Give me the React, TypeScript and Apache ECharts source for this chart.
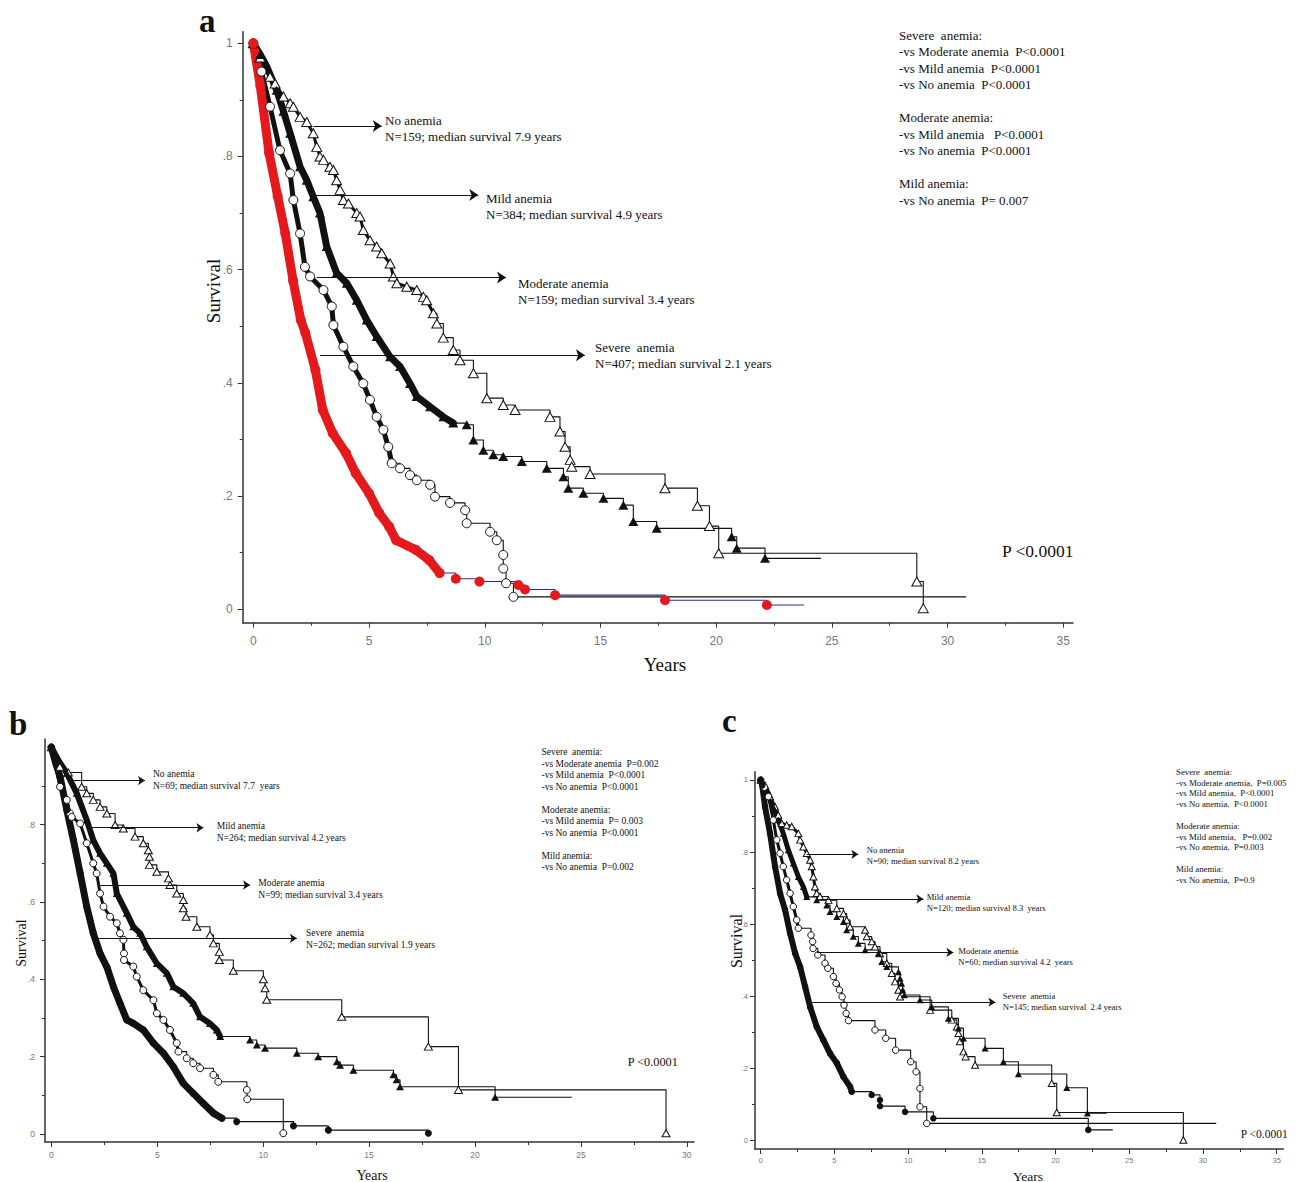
import React, { useEffect, useRef } from "react";
import * as echarts from "echarts";

type Pt = [number, number];

// ---------------- Panel a ----------------
const aNoAnemia: Pt[] = [[0,1],[0.3,0.975],[0.72,0.941],[0.94,0.929],[1.3,0.906],[1.59,0.894],[1.73,0.888],[2.02,0.87],[2.31,0.861],[2.59,0.841],[2.74,0.817],[2.88,0.8],[3.03,0.794],[3.31,0.782],[3.46,0.776],[3.6,0.758],[3.75,0.741],[3.89,0.723],[4.11,0.717],[4.47,0.7],[4.61,0.694],[4.75,0.67],[5.04,0.652],[5.33,0.641],[5.55,0.629],[5.91,0.611],[6.05,0.588],[6.2,0.576],[6.63,0.57],[7.06,0.564],[7.35,0.552],[7.49,0.546],[7.78,0.523],[7.93,0.505],[8.21,0.48],[8.64,0.458],[8.93,0.44],[9.51,0.417],[10.09,0.373],[10.8,0.361],[11.31,0.352],[12.82,0.34],[13.25,0.314],[13.47,0.287],[13.69,0.264],[13.76,0.252],[14.55,0.239],[17.79,0.214],[19.19,0.183],[19.71,0.147],[20.11,0.099],[28.67,0.049],[28.95,0.002]];
const aMild: Pt[] = [[0,1],[0.3,0.98],[0.58,0.959],[1.01,0.917],[1.3,0.88],[1.59,0.841],[2.02,0.782],[2.31,0.758],[2.59,0.729],[2.88,0.7],[3.17,0.641],[3.6,0.594],[4.04,0.576],[4.47,0.546],[4.9,0.511],[5.33,0.482],[5.91,0.446],[6.34,0.429],[6.77,0.399],[7.06,0.376],[7.64,0.358],[8.21,0.34],[8.64,0.329],[9.22,0.326],[9.51,0.299],[9.94,0.281],[10.37,0.273],[10.8,0.27],[11.6,0.261],[12.68,0.249],[13.4,0.234],[13.61,0.214],[14.26,0.205],[15.13,0.196],[15.99,0.184],[16.42,0.155],[17.43,0.143],[20.67,0.128],[20.89,0.108],[22.11,0.09]];
const aMildEnd = 24.53;
const aModerate: Pt[] = [[0,1],[0.35,0.95],[0.72,0.888],[1.15,0.811],[1.59,0.77],[1.73,0.723],[2.02,0.664],[2.23,0.605],[2.45,0.588],[3.03,0.564],[3.39,0.535],[3.46,0.502],[3.89,0.464],[4.32,0.429],[4.75,0.399],[5.04,0.37],[5.33,0.34],[5.62,0.317],[5.83,0.287],[5.98,0.258],[6.34,0.249],[6.77,0.237],[7.06,0.228],[7.64,0.22],[7.85,0.199],[8.5,0.188],[9.15,0.175],[9.22,0.152],[10.23,0.137],[10.52,0.122],[10.8,0.096],[10.8,0.072],[10.92,0.046],[11.24,0.022]];
const aModerateEnd = 30.8;
const aSevere: Pt[] = [[0,1],[0.3,0.925],[0.68,0.806],[1.05,0.73],[1.38,0.664],[1.72,0.58],[2.05,0.511],[2.25,0.488],[2.68,0.423],[3.0,0.352],[3.43,0.311],[4.0,0.276],[4.43,0.24],[5.0,0.205],[5.44,0.17],[5.87,0.146],[6.17,0.122],[7.02,0.105],[7.6,0.087],[8.05,0.064],[8.75,0.054],[9.77,0.049],[11.45,0.043],[11.74,0.035],[13.04,0.025],[17.79,0.016],[22.19,0.0076]];
const aSevereEnd = 23.8;

// ---------------- Panel b ----------------
const bNoAnemia: Pt[] = [[0,1],[0.4,0.95],[0.8,0.935],[1.43,0.898],[1.67,0.881],[1.98,0.864],[2.3,0.846],[2.62,0.829],[3.01,0.799],[3.4,0.79],[3.95,0.769],[4.34,0.752],[4.58,0.734],[4.63,0.717],[4.63,0.696],[4.98,0.678],[5.53,0.661],[5.6,0.644],[5.92,0.622],[6.23,0.605],[6.23,0.584],[6.36,0.562],[6.87,0.536],[7.49,0.515],[7.65,0.493],[7.93,0.471],[7.93,0.45],[8.59,0.422],[10.01,0.4],[10.09,0.377],[10.17,0.347],[13.71,0.303],[17.8,0.226],[19.22,0.114],[29.02,0.002]];
const bMild: Pt[] = [[0,1],[0.35,0.965],[0.73,0.933],[1.2,0.881],[1.67,0.812],[1.98,0.76],[2.3,0.726],[2.62,0.7],[2.93,0.674],[3.09,0.622],[3.56,0.571],[3.87,0.536],[4.19,0.519],[4.5,0.484],[4.98,0.441],[5.45,0.416],[5.76,0.381],[6.23,0.364],[6.7,0.338],[7.02,0.303],[7.49,0.286],[7.81,0.269],[7.97,0.252],[9.38,0.243],[9.7,0.23],[10.09,0.222],[11.59,0.209],[12.6,0.2],[13.48,0.187],[13.63,0.178],[14.26,0.165],[16.15,0.153],[16.3,0.14],[16.46,0.122],[20.95,0.095]];
const bMildEnd = 24.57;
const bModerate: Pt[] = [[0,1],[0.41,0.898],[0.73,0.864],[0.88,0.829],[0.96,0.82],[1.36,0.803],[1.67,0.752],[1.98,0.7],[2.14,0.674],[2.3,0.622],[2.46,0.588],[2.77,0.562],[3.09,0.545],[3.24,0.519],[3.4,0.502],[3.43,0.467],[3.43,0.45],[3.87,0.433],[4.03,0.407],[4.34,0.372],[4.82,0.346],[4.98,0.312],[5.29,0.295],[5.6,0.269],[5.92,0.235],[6.0,0.213],[6.39,0.196],[6.7,0.183],[7.02,0.17],[7.65,0.153],[7.88,0.135],[9.23,0.114],[9.25,0.09],[10.95,0.002]];
const bSevere: Pt[] = [[0,1],[0.2,0.96],[0.41,0.924],[0.73,0.838],[1.04,0.76],[1.36,0.674],[1.67,0.588],[1.98,0.519],[2.3,0.467],[2.62,0.432],[2.93,0.381],[3.24,0.338],[3.56,0.295],[3.87,0.286],[4.34,0.269],[4.82,0.235],[5.29,0.209],[5.76,0.174],[6.23,0.131],[6.7,0.105],[7.18,0.079],[7.65,0.054],[8.05,0.041],[8.75,0.032],[11.43,0.021],[13.08,0.01],[17.8,0.002]];

// ---------------- Panel c ----------------
const cNoAnemia: Pt[] = [[0,1],[0.3,0.985],[0.63,0.954],[0.97,0.926],[1.19,0.903],[1.42,0.88],[1.76,0.875],[2.1,0.871],[2.55,0.852],[2.67,0.834],[2.89,0.815],[3.12,0.797],[3.35,0.778],[3.46,0.76],[3.57,0.732],[3.68,0.704],[3.8,0.686],[4.02,0.677],[4.59,0.667],[5.16,0.644],[5.61,0.63],[5.83,0.612],[6.06,0.593],[7.08,0.584],[7.19,0.566],[7.53,0.552],[7.75,0.538],[8.09,0.519],[8.55,0.492],[8.89,0.464],[9.11,0.441],[9.34,0.418],[9.45,0.399],[11.49,0.362],[12.96,0.335],[13.3,0.316],[13.41,0.298],[13.51,0.275],[13.75,0.247],[13.9,0.233],[14.54,0.21],[19.74,0.159],[20.08,0.078],[28.67,0.002]];
const cMild: Pt[] = [[0,1],[0.2,0.985],[0.52,0.963],[0.85,0.926],[1.19,0.889],[1.53,0.852],[1.87,0.806],[2.21,0.769],[2.55,0.732],[2.89,0.704],[3.12,0.676],[3.8,0.667],[4.48,0.653],[4.7,0.635],[5.16,0.621],[5.61,0.607],[5.83,0.584],[6.28,0.566],[6.62,0.547],[7.08,0.529],[7.98,0.519],[8.21,0.496],[8.55,0.482],[9.34,0.468],[9.45,0.45],[9.55,0.436],[9.63,0.418],[9.74,0.404],[10.8,0.39],[11.6,0.371],[12.73,0.339],[13.41,0.312],[13.75,0.284],[15.22,0.256],[16.46,0.219],[17.48,0.185],[20.76,0.147],[22.16,0.076]];
const cMildEnd = 23.47;
const cModerate: Pt[] = [[0,1],[0.25,0.98],[0.52,0.954],[0.85,0.889],[1.09,0.834],[1.31,0.797],[1.53,0.76],[1.76,0.723],[1.99,0.686],[2.21,0.649],[2.44,0.612],[2.55,0.589],[3.41,0.57],[3.52,0.552],[3.55,0.533],[3.87,0.515],[4.36,0.492],[4.55,0.478],[4.93,0.455],[5.11,0.436],[5.34,0.418],[5.52,0.399],[5.65,0.376],[5.79,0.353],[5.95,0.333],[7.75,0.307],[8.48,0.284],[9.15,0.251],[10.17,0.219],[10.54,0.191],[10.8,0.145],[10.8,0.094],[11.26,0.048]];
const cModerateEnd = 30.9;
const cSevere: Pt[] = [[0,1],[0.1,0.985],[0.29,0.926],[0.63,0.852],[0.97,0.76],[1.31,0.686],[1.65,0.64],[1.99,0.575],[2.33,0.52],[2.67,0.482],[3.01,0.427],[3.35,0.371],[3.8,0.316],[4.25,0.279],[4.7,0.242],[5.16,0.215],[5.61,0.177],[6.06,0.15],[6.17,0.136],[7.53,0.127],[8.09,0.113],[8.09,0.096],[9.79,0.08],[11.71,0.062],[22.22,0.03]];
const cSevereEnd = 23.88;

// ---------------- Ticks ----------------
const xTicks35 = [0, 5, 10, 15, 20, 25, 30, 35];
const xMinor35 = [2.5, 7.5, 12.5, 17.5, 22.5, 27.5, 32.5];
const xTicks30 = [0, 5, 10, 15, 20, 25, 30];
const xMinor30 = [2.5, 7.5, 12.5, 17.5, 22.5, 27.5];
const yTicksFull = [0, 0.2, 0.4, 0.6, 0.8, 1];
const yTicksNoOne = [0, 0.2, 0.4, 0.6, 0.8];
const yMinor = [0.1, 0.3, 0.5, 0.7, 0.9];

// arrows: [tStart, tEnd, survival]
const aArrows = [[2.59, 5.55, 0.854], [2.59, 9.72, 0.732], [2.74, 10.92, 0.586], [2.88, 14.33, 0.449]];
const bArrows = [[0.96, 4.42, 0.914], [1.83, 7.18, 0.792], [2.3, 9.38, 0.644], [2.14, 11.59, 0.506]];
const cArrows = [[3.12, 6.62, 0.794], [4.02, 11.03, 0.67], [3.8, 13.07, 0.522], [3.46, 15.92, 0.384]];

const aLabels = [["No anemia", "N=159; median survival 7.9 years"], ["Mild anemia", "N=384; median survival 4.9 years"], ["Moderate anemia", "N=159; median survival 3.4 years"], ["Severe  anemia", "N=407; median survival 2.1 years"]];
const bLabels = [["No anemia", "N=69; median survival 7.7  years"], ["Mild anemia", "N=264; median survival 4.2 years"], ["Moderate anemia", "N=99; median survival 3.4 years"], ["Severe  anemia", "N=262; median survival 1.9 years"]];
const cLabels = [["No anemia", "N=90; median survival 8.2 years"], ["Mild anemia", "N=120; median survival 8.3  years"], ["Moderate anemia", "N=60; median survival 4.2  years"], ["Severe  anemia", "N=145; median survival  2.4 years"]];

const aStats = ["Severe  anemia:", "-vs Moderate anemia  P<0.0001", "-vs Mild anemia  P<0.0001", "-vs No anemia  P<0.0001", "", "Moderate anemia:", "-vs Mild anemia   P<0.0001", "-vs No anemia  P<0.0001", "", "Mild anemia:", "-vs No anemia  P= 0.007"];
const bStats = ["Severe  anemia:", "-vs Moderate anemia  P=0.002", "-vs Mild anemia  P<0.0001", "-vs No anemia  P<0.0001", "", "Moderate anemia:", "-vs Mild anemia  P= 0.003", "-vs No anemia  P<0.0001", "", "Mild anemia:", "-vs No anemia  P=0.002"];
const cStats = ["Severe  anemia:", "-vs Moderate anemia,  P=0.005", "-vs Mild anemia,  P<0.0001", "-vs No anemia,  P<0.0001", "", "Moderate anemia:", "-vs Mild anemia,   P=0.002", "-vs No anemia,  P=0.003", "", "Mild anemia:", "-vs No anemia,  P=0.9"];
const pOverall = "P <0.0001";

const SERIF = '"Liberation Serif", "Times New Roman", serif';
const SANS = '"Liberation Sans", Arial, sans-serif';

type Curve = {
  data: Pt[]; end: number | null; dense: number; band: number;
  lineColor: string; bandColor: string; symbol: string; fill: string; stroke: string;
  size: number | number[];
};

function curveSeries(g: number, c: Curve) {
  const out: any[] = [];
  const last = c.data[c.data.length - 1];
  const densePts = c.band > 0 ? c.data.filter((p) => p[0] <= c.dense) : [];
  const startIdx = densePts.length > 0 ? densePts.length - 1 : 0;
  const tail = c.data.slice(startIdx);
  const lineData = c.end != null ? [...tail, [c.end, last[1]]] : tail;
  out.push({
    type: "line", xAxisIndex: 2 * g, yAxisIndex: 2 * g, data: lineData, step: "end",
    symbol: "none", showSymbol: false, silent: true,
    lineStyle: { color: c.lineColor, width: 1.1 }, z: 2,
  });
  if (c.band > 0) {
    out.push({
      type: "line", xAxisIndex: 2 * g, yAxisIndex: 2 * g,
      data: densePts, symbol: "none", showSymbol: false, silent: true,
      lineStyle: { color: c.bandColor, width: c.band, cap: "round", join: "round" }, z: 3,
    });
  }
  out.push({
    type: "scatter", xAxisIndex: 2 * g, yAxisIndex: 2 * g, data: c.data, symbol: c.symbol,
    symbolSize: c.size, silent: true,
    itemStyle: { color: c.fill, borderColor: c.stroke, borderWidth: c.fill === "#ffffff" ? 1 : 0, opacity: 1 },
    z: 4,
  });
  return out;
}

function arrowSeries(g: number, arrows: number[][], size: number) {
  return {
    type: "line", xAxisIndex: 2 * g, yAxisIndex: 2 * g, data: [], silent: true,
    markLine: {
      silent: true, symbol: ["none", "arrow"], symbolSize: size, animation: false,
      label: { show: false }, lineStyle: { color: "#111", width: 1, type: "solid" },
      emphasis: { disabled: true },
      data: arrows.map((a) => [{ coord: [a[0], a[2]] }, { coord: [a[1], a[2]] }]),
    },
    z: 5,
  };
}

const yFmt = (v: number) => (v === 0 ? "0" : v === 1 ? "1" : String(+v.toFixed(1)).replace("0.", "."));

function axesFor(g: number, xr: number[], yr: number[], xt: number[], xm: number[], yt: number[], fs: number, xMargin: number, yMargin: number) {
  const axisLine = { onZero: false, lineStyle: { color: "#333", width: 1.5 } };
  const xAxis = [
    {
      type: "value", gridIndex: g, min: xr[0], max: xr[1], position: "bottom",
      axisLine, splitLine: { show: false },
      axisTick: { customValues: xt, length: 5, lineStyle: { color: "#333", width: 1 } },
      axisLabel: { customValues: xt, color: "#777", fontSize: fs, fontFamily: SANS, margin: xMargin, formatter: (v: number) => String(v) },
    },
    {
      type: "value", gridIndex: g, min: xr[0], max: xr[1], position: "bottom",
      axisLine: { show: false, onZero: false }, splitLine: { show: false },
      axisTick: { customValues: xm, length: 3, lineStyle: { color: "#333", width: 1 } },
      axisLabel: { show: false },
    },
  ];
  const yAxis = [
    {
      type: "value", gridIndex: g, min: yr[0], max: yr[1], position: "left",
      axisLine, splitLine: { show: false },
      axisTick: { customValues: yt, length: 5, lineStyle: { color: "#333", width: 1 } },
      axisLabel: { customValues: yt, color: "#777", fontSize: fs, fontFamily: SANS, margin: yMargin, formatter: yFmt },
    },
    {
      type: "value", gridIndex: g, min: yr[0], max: yr[1], position: "left",
      axisLine: { show: false, onZero: false }, splitLine: { show: false },
      axisTick: { customValues: yMinor, length: 3, lineStyle: { color: "#333", width: 1 } },
      axisLabel: { show: false },
    },
  ];
  return { xAxis, yAxis };
}

function txt(x: number, y: number, text: string, size: number, extra: any = {}) {
  return {
    type: "text", x, y, silent: true, rotation: extra.rotation || 0,
    style: {
      text, fill: "#111", font: `${extra.bold ? "bold " : ""}${size}px ${SERIF}`,
      textAlign: extra.align || "left", align: extra.align || "left",
      textVerticalAlign: "middle", verticalAlign: "middle",
    },
  };
}

function labelBlock(x: number[], y: number[], labels: string[][], size: number, gap: number) {
  const out: any[] = [];
  labels.forEach((l, i) => {
    out.push(txt(x[i], y[i], l[0], size));
    out.push(txt(x[i], y[i] + gap, l[1], size));
  });
  return out;
}

function statsBlock(x: number, y0: number, lines: string[], size: number, lh: number) {
  return lines.map((l, i) => (l ? txt(x, y0 + i * lh, l, size) : null)).filter(Boolean);
}

const App: React.FC = () => {
  const ref = useRef<HTMLDivElement>(null);
  useEffect(() => {
    if (!ref.current) return;
    const chart = echarts.init(ref.current, undefined, { renderer: "svg" });

    const A = axesFor(0, [-0.46, 35.42], [-0.0237, 1.0205], xTicks35, xMinor35, yTicksFull, 12, 12, 10);
    const B = axesFor(1, [-0.3, 30.34], [-0.0207, 1.0215], xTicks30, xMinor30, yTicksNoOne, 8.5, 8, 10);
    const C = axesFor(2, [-0.39, 35.45], [-0.023, 1.023], xTicks35, xMinor35, yTicksFull, 7.5, 7, 7);

    const W = "#ffffff", K = "#111111", RED = "#e3191c", BLUE = "#2c2c96";
    const series: any[] = [
      // panel a
      ...curveSeries(0, { data: aNoAnemia, end: null, dense: 7.8, band: 3, lineColor: K, bandColor: K, symbol: "triangle", fill: W, stroke: K, size: [10, 9] }),
      ...curveSeries(0, { data: aMild, end: aMildEnd, dense: 8.7, band: 7, lineColor: K, bandColor: K, symbol: "triangle", fill: K, stroke: K, size: [10, 9] }),
      ...curveSeries(0, { data: aModerate, end: aModerateEnd, dense: 6.0, band: 5, lineColor: K, bandColor: K, symbol: "circle", fill: W, stroke: K, size: 9 }),
      ...curveSeries(0, { data: aSevere, end: aSevereEnd, dense: 8.1, band: 9, lineColor: BLUE, bandColor: RED, symbol: "circle", fill: RED, stroke: RED, size: 10 }),
      arrowSeries(0, aArrows, 9),
      // panel b
      ...curveSeries(1, { data: bNoAnemia, end: null, dense: 0.9, band: 3, lineColor: K, bandColor: K, symbol: "triangle", fill: W, stroke: K, size: [8, 7] }),
      ...curveSeries(1, { data: bMild, end: bMildEnd, dense: 8.0, band: 6, lineColor: K, bandColor: K, symbol: "triangle", fill: K, stroke: K, size: [8, 7] }),
      ...curveSeries(1, { data: bModerate, end: null, dense: 6.0, band: 3, lineColor: K, bandColor: K, symbol: "circle", fill: W, stroke: K, size: 7 }),
      ...curveSeries(1, { data: bSevere, end: null, dense: 8.1, band: 7, lineColor: K, bandColor: K, symbol: "circle", fill: K, stroke: K, size: 7 }),
      arrowSeries(1, bArrows, 7),
      // panel c
      ...curveSeries(2, { data: cNoAnemia, end: null, dense: 3.8, band: 3, lineColor: K, bandColor: K, symbol: "triangle", fill: W, stroke: K, size: [7, 6.5] }),
      ...curveSeries(2, { data: cMild, end: cMildEnd, dense: 3.2, band: 5, lineColor: K, bandColor: K, symbol: "triangle", fill: K, stroke: K, size: [7, 6.5] }),
      ...curveSeries(2, { data: cModerate, end: cModerateEnd, dense: 2.6, band: 3, lineColor: K, bandColor: K, symbol: "circle", fill: W, stroke: K, size: 6.5 }),
      ...curveSeries(2, { data: cSevere, end: cSevereEnd, dense: 6.2, band: 6, lineColor: K, bandColor: K, symbol: "circle", fill: K, stroke: K, size: 6.5 }),
      arrowSeries(2, cArrows, 7),
    ];

    const graphic: any[] = [
      // panel letters
      txt(199, 20.5, "a", 33, { bold: true }),
      txt(9, 724, "b", 33, { bold: true }),
      txt(722, 720.5, "c", 33, { bold: true }),
      // axis names
      txt(213, 291, "Survival", 19, { rotation: Math.PI / 2, align: "center" }),
      txt(665, 664, "Years", 19, { align: "center" }),
      txt(21, 943, "Survival", 14, { rotation: Math.PI / 2, align: "center" }),
      txt(372, 1175, "Years", 14, { align: "center" }),
      txt(736, 941, "Survival", 16, { rotation: Math.PI / 2, align: "center" }),
      txt(1028, 1176, "Years", 13.5, { align: "center" }),
      // arrow labels
      ...labelBlock([385, 486, 518, 595], [120, 198, 283.3, 347], aLabels, 13, 16),
      ...labelBlock([153, 216.7, 258.3, 306], [774, 826, 883.3, 933.3], bLabels, 9.5, 12),
      ...labelBlock([866.7, 926.7, 958.3, 1002.7], [850, 897, 950.7, 996], cLabels, 8.6, 11),
      // stats blocks
      ...statsBlock(899, 35, aStats, 13, 16.5),
      ...statsBlock(541.5, 752, bStats, 9.5, 11.5),
      ...statsBlock(1176, 771.7, cStats, 8.8, 10.8),
      // overall p
      txt(1002, 551, pOverall, 17.5),
      txt(627.7, 1061.7, pOverall, 12.3),
      txt(1240.7, 1134, pOverall, 11.5),
    ];

    chart.setOption({
      animation: false,
      backgroundColor: "#ffffff",
      grid: [
        { left: 242.7, top: 31.7, width: 830.3, height: 591, containLabel: false },
        { left: 45, top: 739, width: 649, height: 403, containLabel: false },
        { left: 755, top: 771.7, width: 528.3, height: 377.3, containLabel: false },
      ],
      xAxis: [...A.xAxis, ...B.xAxis, ...C.xAxis],
      yAxis: [...A.yAxis, ...B.yAxis, ...C.yAxis],
      series,
      graphic,
    });
    return () => chart.dispose();
  }, []);
  return <div ref={ref} style={{ position: "absolute", left: 0, top: 0, width: 1297, height: 1182 }} />;
};

export default App;
